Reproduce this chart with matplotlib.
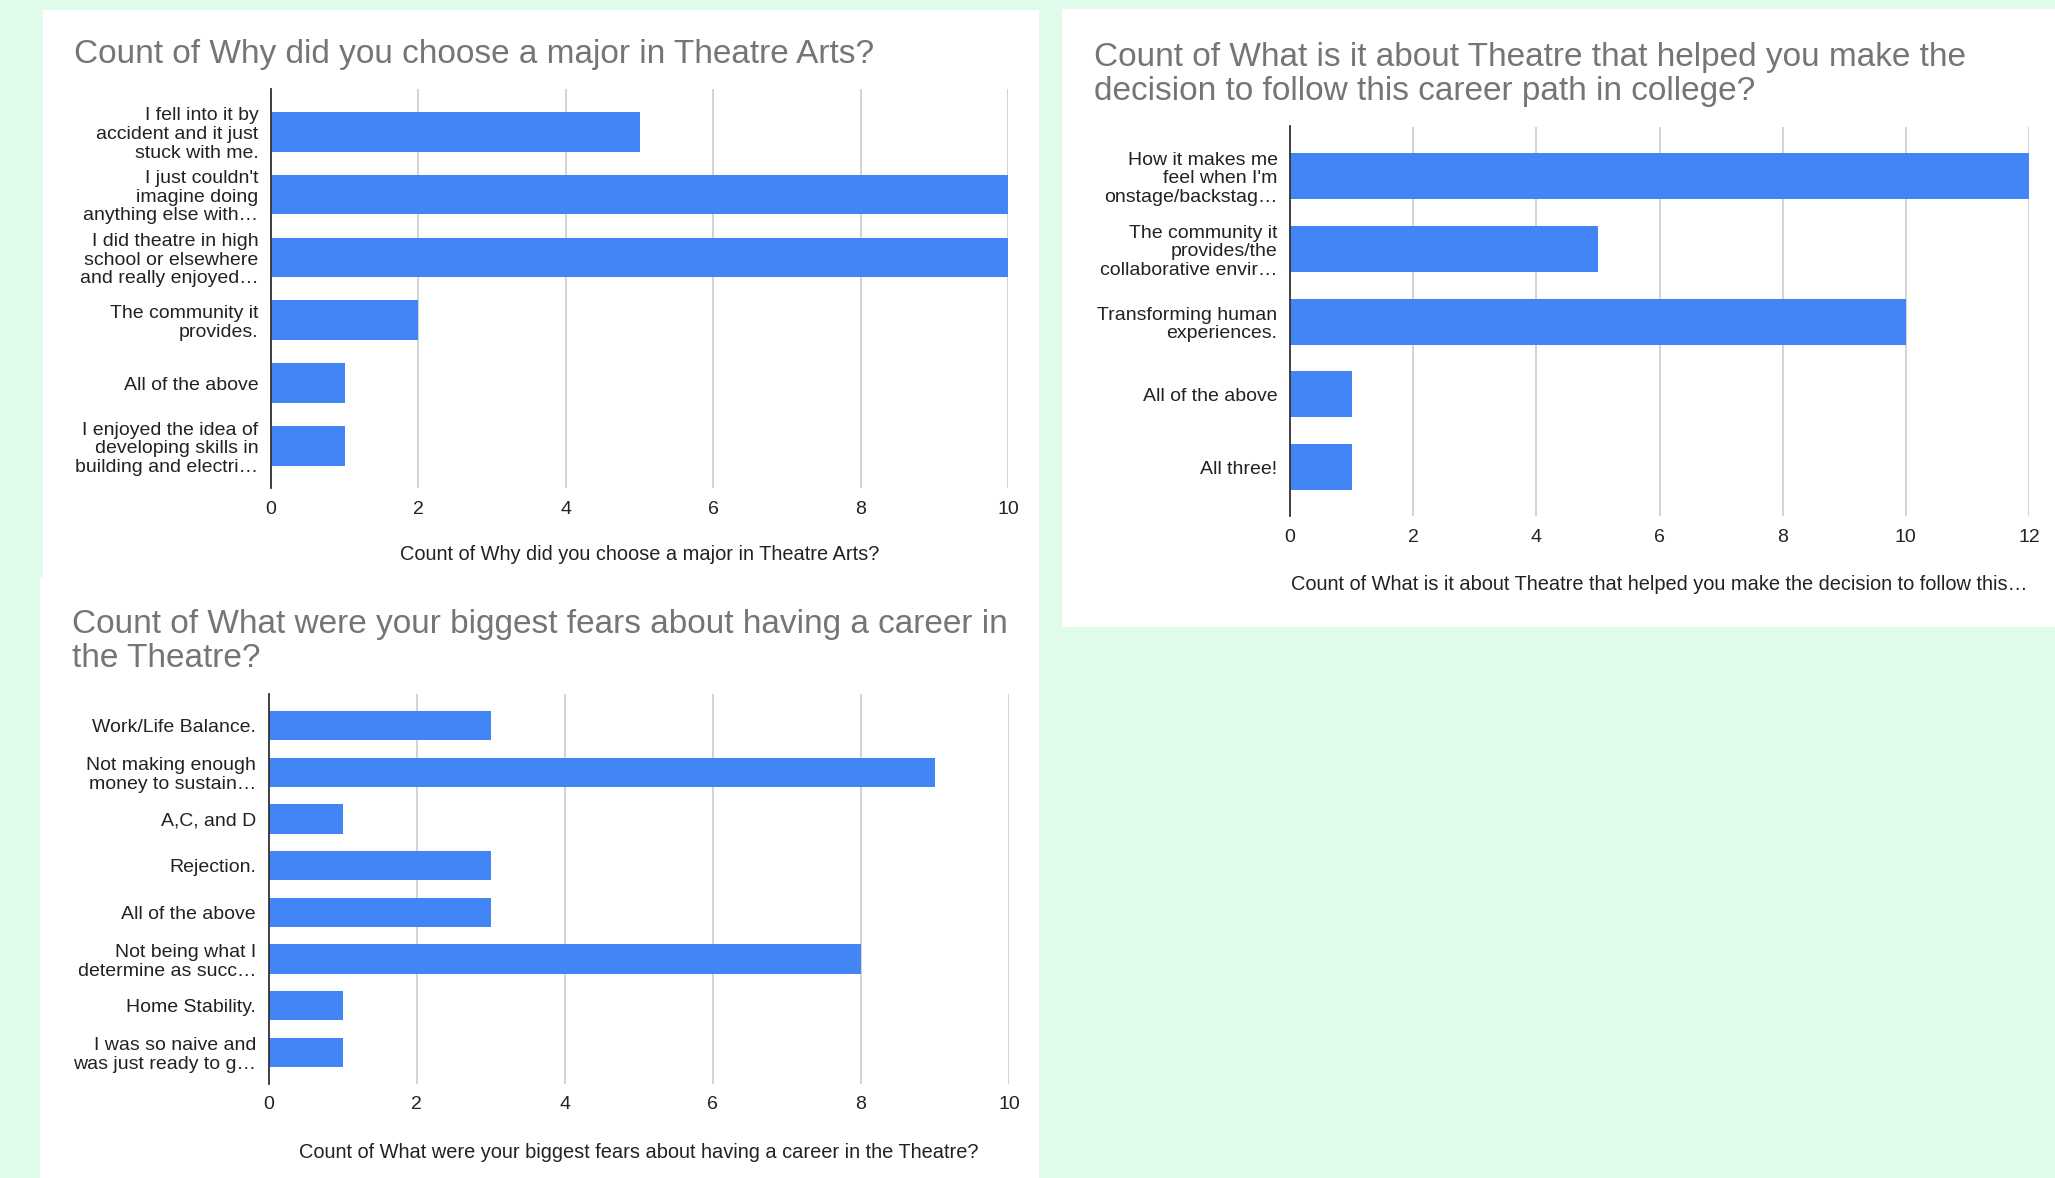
import matplotlib
matplotlib.use("Agg")
from matplotlib import pyplot as plt
from matplotlib.patches import Rectangle

W, H = 2055, 1178

major_labels = [
    "I fell into it by\naccident and it just\nstuck with me.",
    "I just couldn't\nimagine doing\nanything else with…",
    "I did theatre in high\nschool or elsewhere\nand really enjoyed…",
    "The community it\nprovides.",
    "All of the above",
    "I enjoyed the idea of\ndeveloping skills in\nbuilding and electri…",
]
major_counts = [5, 10, 10, 2, 1, 1]

help_labels = [
    "How it makes me\nfeel when I'm\nonstage/backstag…",
    "The community it\nprovides/the\ncollaborative envir…",
    "Transforming human\nexperiences.",
    "All of the above",
    "All three!",
]
help_counts = [12, 5, 10, 1, 1]

fear_labels = [
    "Work/Life Balance.",
    "Not making enough\nmoney to sustain…",
    "A,C, and D",
    "Rejection.",
    "All of the above",
    "Not being what I\ndetermine as succ…",
    "Home Stability.",
    "I was so naive and\nwas just ready to g…",
]
fear_counts = [3, 9, 1, 3, 3, 8, 1, 1]

BG = "#dffbea"
BAR = "#4285f4"
GRID = "#cccccc"
TITLE_C = "#757575"
TEXT_C = "#222222"

plt.rcParams["font.family"] = ["Liberation Sans", "DejaVu Sans"]

fig = plt.figure(figsize=(W / 100, H / 100), dpi=100)
fig.patch.set_facecolor(BG)


def fx(x):
    return x / W


def fy(y):
    return 1 - y / H


def white_box(x0, y0, x1, y1):
    fig.patches.append(Rectangle((fx(x0), fy(y1)), fx(x1) - fx(x0), fy(y0) - fy(y1),
                                 transform=fig.transFigure, facecolor="white",
                                 edgecolor="none", zorder=-5))


def bar_panel(rect, labels, counts, xmax, xlabel, title, title_xy, xlabel_y):
    x0, y0, x1, y1 = rect
    ax = fig.add_axes([fx(x0), fy(y1), fx(x1) - fx(x0), fy(y0) - fy(y1)])
    ax.set_zorder(2)
    ax.set_facecolor("none")
    pos = list(range(len(labels)))
    ax.barh(pos, counts, height=0.63, color=BAR, zorder=3)
    ax.set_xlim(0, xmax)
    ax.set_ylim(len(labels) - 1 + 0.67, -0.68)
    ax.set_xticks(range(0, xmax + 1, 2))
    ax.set_yticks(pos)
    ax.set_yticklabels(labels, linespacing=1.12)
    ax.tick_params(axis="both", length=0, labelsize=14, colors=TEXT_C)
    ax.tick_params(axis="y", pad=9)
    ax.tick_params(axis="x", pad=9)
    ax.grid(axis="x", color=GRID, linewidth=1.2, zorder=0)
    for s in ["top", "right", "bottom"]:
        ax.spines[s].set_visible(False)
    ax.spines["left"].set_color("#333333")
    ax.spines["left"].set_linewidth(1.3)
    ax.spines["left"].set_zorder(4)
    fig.text(fx((x0 + x1) / 2), fy(xlabel_y), xlabel, ha="center", va="center",
             fontsize=14.4, color=TEXT_C, zorder=3)
    fig.text(fx(title_xy[0]), fy(title_xy[1]), title, ha="left", va="top",
             fontsize=24, color=TITLE_C, linespacing=1.12, zorder=3)
    return ax


white_box(43, 10, 1039, 577)
white_box(1062, 9, W, 627)
white_box(40, 577, 1039, H)

bar_panel((271, 89, 1008, 488), major_labels, major_counts, 10,
          "Count of Why did you choose a major in Theatre Arts?",
          "Count of Why did you choose a major in Theatre Arts?",
          (74, 39), 554)

bar_panel((1290, 126.5, 2029, 516), help_labels, help_counts, 12,
          "Count of What is it about Theatre that helped you make the decision to follow this…",
          "Count of What is it about Theatre that helped you make the\ndecision to follow this career path in college?",
          (1094, 42), 585)

bar_panel((268.6, 694, 1009, 1083.5), fear_labels, fear_counts, 10,
          "Count of What were your biggest fears about having a career in the Theatre?",
          "Count of What were your biggest fears about having a career in\nthe Theatre?",
          (72, 609), 1152)

fig.savefig("out.png", dpi=100, facecolor=fig.get_facecolor())
